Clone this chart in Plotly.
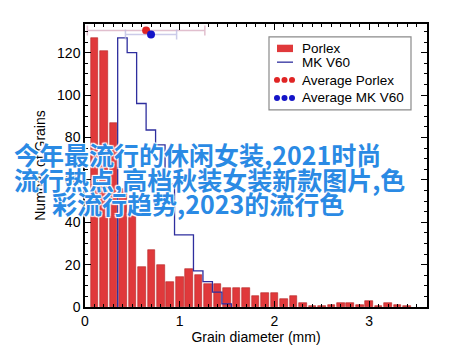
import numpy as np
import plotly.graph_objects as go

# ---------------- data ----------------
porlex_x = [0.1, 0.2, 0.3, 0.4, 0.5, 0.6, 0.7, 0.8, 0.9, 1.0, 1.1, 1.2, 1.3, 1.4, 1.5, 1.6, 1.7,
            1.8, 1.9, 2.0, 2.1, 2.2, 2.3, 2.4, 2.5, 2.6, 2.7, 2.8, 2.9, 3.0, 3.1, 3.2, 3.3, 3.4]
porlex_counts = [127, 121, 87, 55.5, 43, 19, 27, 20, 12, 14, 18, 15, 11, 11, 9, 9, 9,
                 5, 6.7, 6.7, 4, 5, 2, 0.7, 0.4, 0.8, 1.8, 1.8, 1, 2.8, 0.3, 2, 1, 0.3]

v60_edges = [0.345, 0.445, 0.545, 0.645, 0.745, 0.845, 0.945, 1.045, 1.145, 1.245, 1.345, 1.445, 1.545]
v60_counts = [127, 120, 96, 83.5, 76.5, 58, 34, 34, 17, 12, 7, 1.5]

avg_names = ["Average Porlex", "Average MK V60"]
avg_x = [0.645, 0.697]
avg_y = [130.4, 128.5]
avg_err = [0.62, 0.27]

x_ticks = [0, 1, 2, 3]
y_ticks = [0, 20, 40, 60, 80, 100, 120]

legend_labels = ["Porlex", "MK V60", "Average Porlex", "Average MK V60"]

overlay_lines = ["今年最流行的休闲女装,2021时尚",
                 "流行热点,高档秋装女装新款图片,色",
                 "彩流行趋势,2023的流行色"]

# ---------------- style ----------------
RED = "#e0393b"
BLUE_LINE = "#2e2e9e"
RED_DOT = "#e02424"
BLUE_DOT = "#1414c8"
FONT = "Liberation Sans, Arial, sans-serif"

W, H = 460, 354
ML, MR, MT, MB = 85, 33, 24, 43
PW, PH = W - ML - MR, H - MT - MB


def px(x):
    return (x - ML) / PW


def py(y):
    return (H - MB - y) / PH


fig = go.Figure()

fig.add_trace(go.Bar(
    x=porlex_x, y=porlex_counts, width=0.08,
    marker=dict(color=RED, line=dict(color="#b52424", width=0.6)),
    name="Porlex",
))

step_x = [v60_edges[0]] + list(v60_edges)
step_y = [0] + list(v60_counts) + [0]
fig.add_trace(go.Scatter(
    x=step_x, y=step_y, mode="lines", line=dict(color=BLUE_LINE, width=1.3, shape="hv"),
    name="MK V60",
))

err_cols = ["rgba(215,170,190,0.75)", "rgba(185,185,225,0.75)"]
dot_cols = [RED_DOT, BLUE_DOT]
for i in range(2):
    fig.add_trace(go.Scatter(
        x=[avg_x[i]], y=[avg_y[i]], mode="markers",
        marker=dict(color=dot_cols[i], size=8),
        error_x=dict(type="data", array=[avg_err[i]], color=err_cols[i], thickness=1.5, width=5),
        name=avg_names[i],
    ))

axis_common = dict(
    showline=True, linecolor="black", linewidth=1.5, mirror="ticks",
    ticks="inside", ticklen=6, tickwidth=1, tickcolor="black",
    showgrid=False, zeroline=False,
    tickfont=dict(family=FONT, size=14, color="black"),
)

fig.update_layout(
    width=W, height=H,
    margin=dict(l=ML, r=MR, t=MT, b=MB),
    paper_bgcolor="white", plot_bgcolor="white",
    showlegend=False,
    xaxis=dict(range=[0, 3.61], tickvals=x_ticks, ticktext=[str(t) for t in x_ticks],
               minor=dict(dtick=0.1, tick0=0, ticks="inside", ticklen=3, tickcolor="black"),
               title=dict(text="Grain diameter (mm)", font=dict(family=FONT, size=14, color="black"),
                          standoff=4),
               **axis_common),
    yaxis=dict(range=[0, 133.5], tickvals=y_ticks, ticktext=[str(t) for t in y_ticks],
               minor=dict(dtick=5, tick0=0, ticks="inside", ticklen=3, tickcolor="black"),
               title=dict(text="Number of Grains", font=dict(family=FONT, size=14, color="black"),
                          standoff=8),
               **axis_common),
    bargap=0,
)

# ---------------- manual legend ----------------
shapes = []
annos = []
shapes.append(dict(type="rect", xref="paper", yref="paper",
                   x0=px(269), x1=px(411), y0=py(111), y1=py(37),
                   line=dict(color="#8a8a8a", width=1.2), fillcolor="white", layer="above"))
shapes.append(dict(type="rect", xref="paper", yref="paper",
                   x0=px(277), x1=px(293), y0=py(52.5), y1=py(45),
                   line=dict(width=0), fillcolor=RED, layer="above"))
shapes.append(dict(type="line", xref="paper", yref="paper",
                   x0=px(277), x1=px(293), y0=py(62.7), y1=py(62.7),
                   line=dict(color=BLUE_LINE, width=1.3), layer="above"))
for row_y, col in [(80.7, RED_DOT), (99, BLUE_DOT)]:
    for cx in [277, 284.5, 292]:
        shapes.append(dict(type="circle", xref="paper", yref="paper",
                           x0=px(cx - 3), x1=px(cx + 3), y0=py(row_y + 3), y1=py(row_y - 3),
                           line=dict(width=0), fillcolor=col, layer="above"))
for lab, yy in zip(legend_labels, [48.5, 63, 81, 99]):
    annos.append(dict(text=lab, xref="paper", yref="paper", x=px(300), y=py(yy),
                      xanchor="left", yanchor="middle", showarrow=False,
                      font=dict(family=FONT, size=13.5, color="black")))

# ---------------- overlay text ----------------
shadow = "1px 1px 1px white, -1px -1px 1px white, 1px -1px 1px white, -1px 1px 1px white"
for line, xx, yy in zip(overlay_lines, [12, 12, 50], [156, 181, 206]):
    annos.append(dict(text=line, xref="paper", yref="paper", x=px(xx), y=py(yy),
                      xanchor="left", yanchor="middle", showarrow=False,
                      font=dict(family="Noto Sans CJK SC", size=25, color="#2a8ae4",
                                weight="bold", shadow=shadow)))

fig.update_layout(shapes=shapes, annotations=annos)

fig.write_html("out.html")
